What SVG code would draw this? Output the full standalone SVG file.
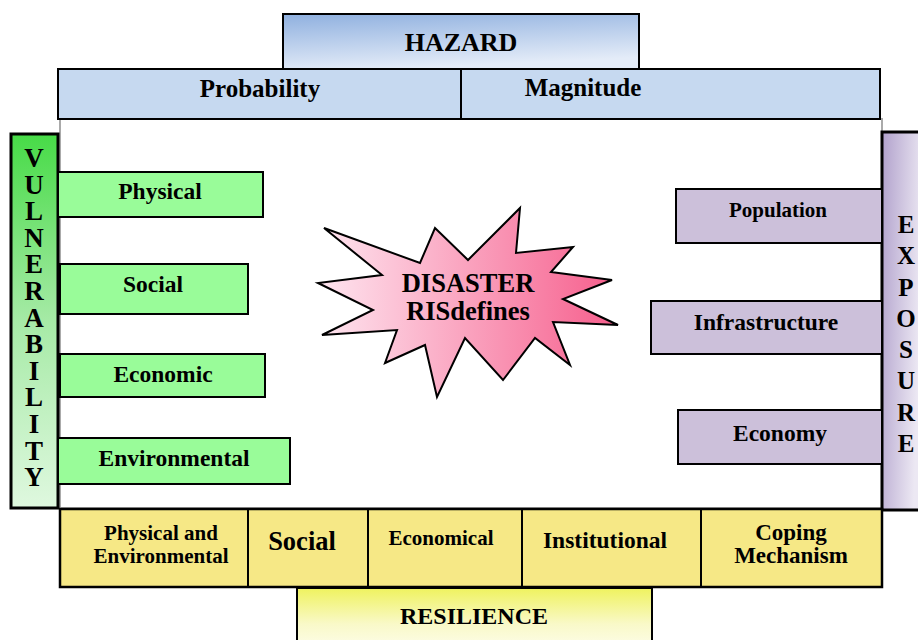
<svg xmlns="http://www.w3.org/2000/svg" width="918" height="640" viewBox="0 0 918 640">
<defs>
<linearGradient id="gHaz" x1="0" y1="0" x2="0.3" y2="1"><stop offset="0" stop-color="#8fb0df"/><stop offset="1" stop-color="#e4ecf8"/></linearGradient>
<linearGradient id="gVul" x1="0" y1="0" x2="0" y2="1"><stop offset="0" stop-color="#47db47"/><stop offset="0.5" stop-color="#a6eaa6"/><stop offset="1" stop-color="#dff8df"/></linearGradient>
<linearGradient id="gExp" x1="0" y1="0" x2="1" y2="0.3"><stop offset="0" stop-color="#b1a1cc"/><stop offset="1" stop-color="#ece8f3"/></linearGradient>
<linearGradient id="gRes" x1="0" y1="0" x2="0" y2="1"><stop offset="0" stop-color="#eff25e"/><stop offset="0.6" stop-color="#f9f9c8"/><stop offset="1" stop-color="#fdfde8"/></linearGradient>
<linearGradient id="gStar" x1="0" y1="0" x2="1" y2="0"><stop offset="0" stop-color="#fee6f0"/><stop offset="1" stop-color="#f65e8c"/></linearGradient>
</defs>
<style>
text{font-family:"Liberation Serif","Times New Roman",serif;font-weight:bold;fill:#000;text-anchor:middle}
.vt{writing-mode:vertical-rl;text-orientation:upright;text-anchor:start}
.bx{stroke:#000;stroke-width:2}
.gr{fill:#99fc99}
.pu{fill:#ccc0da}
.ye{fill:#f6e886}
.bl{fill:#c6d9f0}
</style>
<rect x="60" y="119" width="822" height="389" fill="#fff" stroke="#aaa" stroke-width="2"/>
<g id="hazard">
<rect x="283" y="14" width="356" height="55" fill="url(#gHaz)" class="bx"/>
<text x="461" y="51" font-size="26">HAZARD</text>
</g>
<g id="probability">
<rect x="58" y="69" width="403" height="50" class="bx bl"/>
<text x="260" y="97" font-size="25">Probability</text>
</g>
<g id="magnitude">
<rect x="461" y="69" width="419" height="50" class="bx bl"/>
<text x="583" y="96" font-size="25">Magnitude</text>
</g>
<g id="vulnerability">
<rect x="11" y="134" width="47" height="374" fill="url(#gVul)" stroke="#000" stroke-width="3"/>
<text class="vt" x="34" y="143" font-size="27" letter-spacing="-3.4">VULNERABILITY</text>
</g>
<g id="physical">
<rect x="58" y="172" width="205" height="45" class="bx gr"/>
<text x="160" y="199" font-size="23.5">Physical</text>
</g>
<g id="social">
<rect x="60" y="264" width="188" height="50" class="bx gr"/>
<text x="153" y="292" font-size="23.5">Social</text>
</g>
<g id="economic">
<rect x="60" y="354" width="205" height="43" class="bx gr"/>
<text x="163" y="382" font-size="23.5">Economic</text>
</g>
<g id="environmental">
<rect x="58" y="438" width="232" height="46" class="bx gr"/>
<text x="174" y="466" font-size="23.5">Environmental</text>
</g>
<g id="exposure">
<rect x="882" y="132" width="40" height="378" fill="url(#gExp)" stroke="#000" stroke-width="3"/>
<text class="vt" x="906" y="211" font-size="25" letter-spacing="4.3">EXPOSURE</text>
</g>
<g id="population">
<rect x="676" y="189" width="206" height="54" class="bx pu"/>
<text x="778" y="217" font-size="21">Population</text>
</g>
<g id="infrastructure">
<rect x="651" y="301" width="231" height="53" class="bx pu"/>
<text x="766" y="330" font-size="23.5">Infrastructure</text>
</g>
<g id="economy">
<rect x="678" y="410" width="204" height="54" class="bx pu"/>
<text x="780" y="441" font-size="23.5">Economy</text>
</g>
<g id="disaster">
<polygon points="324,228 420,263 435,228 468,260 520,208 516,253 573,247 551,272 612,280 563,299 618,325 553,322 570,365 535,338 503,380 465,338 437,397 425,345 385,363 397,330 322,335 373,310 318,283 382,275" fill="url(#gStar)" stroke="#000" stroke-width="2" stroke-linejoin="miter"/>
<text font-size="26.5"><tspan x="468" y="292">DISASTER</tspan><tspan x="468" y="320">RISdefines</tspan></text>
</g>
<g id="resilience-bar">
<rect x="60" y="509" width="822" height="78" class="ye" stroke="#000" stroke-width="2.5"/>
<g stroke="#000" stroke-width="2"><line x1="248" y1="509" x2="248" y2="587"/><line x1="368" y1="509" x2="368" y2="587"/><line x1="522" y1="509" x2="522" y2="587"/><line x1="701" y1="509" x2="701" y2="587"/></g>
<text font-size="21"><tspan x="161" y="540">Physical and</tspan><tspan x="161" y="563">Environmental</tspan></text>
<text x="302" y="550" font-size="26.5">Social</text>
<text x="441" y="545" font-size="21">Economical</text>
<text x="605" y="548" font-size="23.5">Institutional</text>
<text font-size="23"><tspan x="791" y="540">Coping</tspan><tspan x="791" y="563">Mechanism</tspan></text>
</g>
<g id="resilience">
<rect x="297" y="588" width="355" height="60" fill="url(#gRes)" class="bx"/>
<text x="474" y="624" font-size="24">RESILIENCE</text>
</g>
</svg>
